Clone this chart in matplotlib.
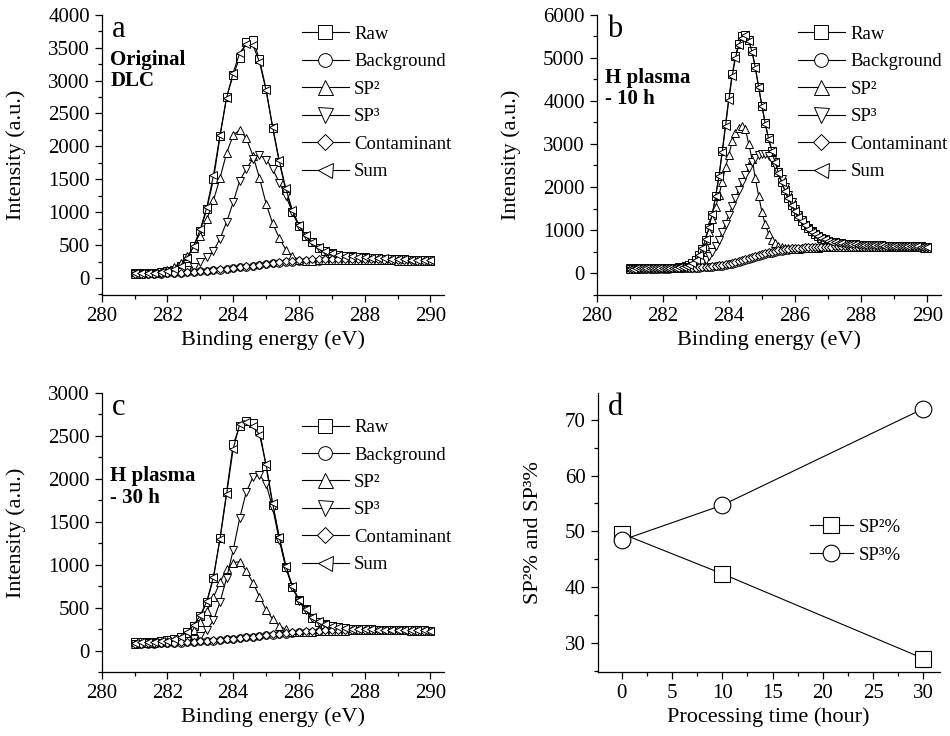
import numpy as np
import matplotlib
matplotlib.use('Agg')
from matplotlib import pyplot as plt
from matplotlib.ticker import MultipleLocator

plt.rcParams['font.family'] = ['Liberation Serif', 'DejaVu Serif']

# binding energy grids (eV)
energy_ac = np.round(np.arange(281.0, 290.01, 0.2), 1)
energy_b = np.round(np.arange(281.0, 290.01, 0.1), 1)

# panel a - original DLC
raw_a = [70, 72, 75, 80, 88, 100, 125, 180, 300, 480,
         720, 1050, 1500, 2150, 2750, 3080, 3350, 3580, 3620, 3320,
         2870, 2280, 1760, 1330, 1010, 790, 640, 540, 460, 405,
         375, 355, 340, 330, 320, 312, 306, 300, 296, 292,
         287, 283, 278, 274, 270, 266]
bg_a = [55, 57, 60, 63, 66, 70, 74, 79, 85, 92,
        100, 108, 117, 127, 138, 150, 162, 174, 186, 198,
        210, 221, 231, 240, 248, 254, 259, 263, 266, 268,
        270, 271, 272, 272, 272, 272, 271, 270, 269, 268,
        266, 264, 262, 260, 258, 256]
sp2_a = [62, 66, 72, 82, 98, 125, 168, 235, 330, 450,
         640, 890, 1180, 1520, 1900, 2170, 2250, 2120, 1860, 1520,
         1130, 830, 610, 430, 330, 280, 265, 265, 267, 268,
         270, 271, 272, 272, 272, 272, 271, 270, 269, 268,
         266, 264, 262, 260, 258, 256]
sp3_a = [56, 58, 61, 64, 68, 74, 82, 95, 120, 170,
         240, 320, 410, 600, 850, 1150, 1480, 1660, 1810, 1870,
         1800, 1660, 1450, 1250, 1000, 790, 640, 540, 460, 405,
         370, 350, 335, 325, 317, 310, 305, 300, 296, 292,
         288, 284, 280, 276, 272, 268]
cont_a = [58, 60, 63, 66, 69, 73, 77, 82, 88, 95,
          103, 111, 120, 130, 141, 153, 165, 177, 190, 203,
          216, 228, 240, 251, 261, 270, 278, 284, 289, 292,
          294, 295, 295, 294, 292, 290, 287, 284, 281, 278,
          275, 272, 269, 266, 263, 260]
sum_a = [72, 74, 77, 82, 90, 104, 132, 190, 310, 490,
         740, 1080, 1560, 2180, 2740, 3120, 3420, 3560, 3540, 3280,
         2850, 2300, 1790, 1360, 1030, 805, 650, 545, 465, 410,
         378, 357, 342, 331, 321, 313, 307, 301, 297, 293,
         288, 284, 279, 275, 271, 267]

# panel b - H plasma 10 h
raw_b = [110, 112, 108, 111, 113, 109, 112, 114, 111, 115, 117,
         118, 120, 124, 128, 135, 145, 160, 185, 230, 300,
         420, 560, 780, 1050, 1360, 1780, 2250, 2830, 3460, 4080,
         4620, 5050, 5330, 5500, 5540, 5420, 5150, 4780, 4320, 3880,
         3480, 3130, 2840, 2580, 2340, 2120, 1920, 1740, 1580, 1440,
         1320, 1210, 1120, 1040, 970, 910, 860, 820, 785, 755,
         735, 718, 705, 694, 686, 679, 673, 668, 664, 660,
         657, 654, 651, 648, 646, 644, 642, 640, 638, 636,
         634, 632, 630, 628, 626, 624, 622, 620, 618, 616]
bg_b = [100, 100, 101, 101, 102, 102, 103, 103, 104, 105, 106,
        107, 108, 109, 110, 112, 114, 116, 118, 121, 124,
        128, 132, 137, 143, 150, 158, 167, 178, 190, 204,
        220, 238, 258, 280, 303, 327, 351, 375, 398, 420,
        441, 460, 478, 494, 508, 521, 532, 542, 551, 559,
        566, 572, 577, 582, 586, 590, 593, 596, 598, 600,
        602, 603, 604, 605, 606, 606, 607, 607, 607, 607,
        607, 607, 606, 606, 606, 605, 605, 604, 604, 603,
        603, 602, 601, 600, 599, 598, 597, 596, 595, 594]
sp2_b = [108, 108, 109, 109, 110, 110, 111, 111, 112, 113, 114,
         116, 118, 121, 125, 130, 138, 150, 170, 200, 250,
         300, 420, 640, 950, 1260, 1540, 1810, 2120, 2470, 2745,
         3060, 3250, 3380, 3420, 3350, 3000, 2650, 2200, 1800, 1420,
         1130, 920, 780, 690, 630, 600, 585, 575, 570, 568,
         570, 573, 578, 582, 586, 590, 593, 596, 598, 600,
         602, 603, 604, 605, 606, 606, 607, 607, 607, 607,
         607, 607, 606, 606, 606, 605, 605, 604, 604, 603,
         603, 602, 601, 600, 599, 598, 597, 596, 595, 594]
sp3_b = [105, 105, 106, 106, 107, 107, 108, 108, 109, 110, 111,
         112, 114, 116, 119, 123, 128, 135, 145, 160, 180,
         210, 250, 310, 390, 490, 620, 780, 960, 1150, 1350,
         1550, 1750, 1940, 2120, 2290, 2440, 2570, 2670, 2740, 2770,
         2760, 2710, 2620, 2500, 2350, 2180, 2000, 1820, 1650, 1490,
         1350, 1230, 1120, 1030, 960, 900, 850, 810, 780, 755,
         735, 718, 705, 694, 685, 678, 672, 667, 663, 659,
         656, 653, 650, 648, 646, 644, 642, 640, 638, 636,
         634, 632, 630, 628, 626, 624, 622, 620, 618, 616]
cont_b = [104, 104, 105, 105, 106, 106, 107, 107, 108, 109, 110,
          111, 112, 113, 115, 117, 119, 121, 124, 127, 131,
          135, 140, 146, 153, 161, 170, 181, 193, 207, 223,
          240, 259, 280, 302, 325, 349, 373, 397, 420, 442,
          463, 482, 500, 516, 530, 543, 554, 564, 573, 581,
          588, 594, 599, 603, 607, 610, 613, 615, 617, 618,
          619, 620, 620, 620, 620, 620, 619, 619, 618, 617,
          616, 615, 614, 613, 612, 611, 610, 609, 608, 607,
          606, 605, 604, 603, 602, 601, 600, 599, 598, 597]
sum_b = [108, 108, 109, 109, 110, 110, 111, 111, 112, 113, 114,
         116, 118, 122, 127, 134, 144, 160, 188, 235, 310,
         430, 580, 800, 1070, 1380, 1790, 2250, 2810, 3420, 4030,
         4570, 5000, 5300, 5470, 5520, 5400, 5140, 4770, 4320, 3880,
         3470, 3120, 2830, 2570, 2330, 2110, 1910, 1735, 1575, 1435,
         1315, 1205, 1115, 1035, 965, 905, 855, 815, 782, 752,
         732, 716, 703, 692, 684, 677, 671, 666, 662, 658,
         655, 652, 649, 647, 645, 643, 641, 639, 637, 635,
         633, 631, 629, 627, 625, 623, 621, 619, 617, 615]

# panel c - H plasma 30 h
raw_c = [95, 97, 100, 104, 110, 118, 130, 158, 212, 288,
         400, 565, 845, 1310, 1850, 2405, 2610, 2675, 2645, 2570,
         2145, 1700, 1310, 975, 745, 585, 478, 382, 337, 305,
         283, 270, 260, 254, 250, 247, 244, 242, 240, 238,
         237, 236, 235, 234, 233, 232]
bg_c = [75, 77, 79, 81, 83, 86, 89, 92, 96, 100,
        105, 110, 116, 122, 129, 136, 144, 152, 160, 168,
        176, 184, 191, 198, 204, 210, 215, 219, 223, 226,
        229, 231, 233, 234, 235, 236, 236, 236, 236, 235,
        235, 234, 233, 232, 231, 230]
sp2_c = [80, 82, 85, 89, 95, 105, 120, 144, 182, 244,
         330, 455, 620, 795, 950, 1025, 1035, 925, 790, 628,
         475, 366, 290, 245, 221, 213, 215, 219, 223, 226,
         229, 231, 233, 234, 235, 236, 236, 236, 236, 235,
         235, 234, 233, 232, 231, 230]
sp3_c = [78, 80, 82, 85, 88, 92, 97, 104, 114, 132,
         165, 240, 350, 565, 845, 1170, 1545, 1850, 2020, 2045,
         1945, 1660, 1290, 965, 735, 575, 470, 378, 333, 300,
         280, 270, 262, 256, 252, 249, 246, 244, 242, 240,
         238, 237, 236, 235, 234, 233]
cont_c = [78, 80, 82, 84, 86, 89, 92, 95, 99, 103,
          108, 113, 119, 125, 132, 139, 147, 155, 163, 171,
          180, 188, 196, 204, 211, 218, 224, 229, 233, 236,
          238, 240, 241, 241, 241, 240, 239, 238, 237, 236,
          235, 234, 233, 232, 231, 230]
sum_c = [92, 94, 97, 101, 107, 116, 130, 160, 217, 295,
         410, 575, 860, 1300, 1820, 2350, 2640, 2665, 2610, 2515,
         2170, 1715, 1325, 990, 750, 590, 483, 386, 340, 307,
         285, 272, 262, 255, 251, 248, 245, 243, 241, 239,
         238, 237, 236, 235, 234, 233]

# panel d
proc_time = [0, 10, 30]
sp2_pct = [49.6, 42.4, 27.2]
sp3_pct = [48.4, 54.7, 72.0]

series_names = ['Raw', 'Background', 'SP²', 'SP³', 'Contaminant', 'Sum']
series_marks = ['s', 'o', '^', 'v', 'D', '<']
mark_sizes = [5.5, 5.5, 6, 6, 4.5, 6]


def style_axes(ax):
    ax.spines['top'].set_visible(False)
    ax.spines['right'].set_visible(False)
    for s in ['left', 'bottom']:
        ax.spines[s].set_linewidth(0.9)
    ax.tick_params(which='both', direction='out', labelsize=15, width=0.9)
    ax.tick_params(which='major', length=5)
    ax.tick_params(which='minor', length=3)


def xps_panel(ax, energy, curves, ylim, ystep, letter, note, note_y, leg_y):
    for vals, name, mk, ms in zip(curves, series_names, series_marks, mark_sizes):
        ax.plot(energy, vals, color='black', lw=0.8, marker=mk, ms=ms,
                mfc='white', mec='black', mew=0.7, label=name)
    ax.set_xlim(280, 290.4)
    ax.set_ylim(*ylim)
    ax.xaxis.set_major_locator(MultipleLocator(2))
    ax.xaxis.set_minor_locator(MultipleLocator(1))
    ax.yaxis.set_major_locator(MultipleLocator(ystep))
    ax.yaxis.set_minor_locator(MultipleLocator(ystep / 2))
    style_axes(ax)
    ax.set_xlabel('Binding energy (eV)', fontsize=16, labelpad=3)
    ax.set_ylabel('Intensity (a.u.)', fontsize=16, labelpad=16)
    ax.text(0.03, 1.0, letter, transform=ax.transAxes, fontsize=22, va='top')
    ax.text(0.025, note_y, note, transform=ax.transAxes, fontsize=15,
            fontweight='bold', va='top', linespacing=1.1)
    ax.legend(loc='upper left', bbox_to_anchor=(0.585, leg_y), frameon=False,
              fontsize=13.5, markerscale=1.8, handlelength=2.5,
              handletextpad=0.3, labelspacing=0.55, borderaxespad=0,
              borderpad=0)


fig = plt.figure(figsize=(9.5, 7.36), dpi=100)
ax_a = fig.add_axes([0.107, 0.599, 0.360, 0.381])
ax_b = fig.add_axes([0.628, 0.599, 0.362, 0.381])
ax_c = fig.add_axes([0.107, 0.087, 0.360, 0.379])
ax_d = fig.add_axes([0.629, 0.087, 0.360, 0.379])

xps_panel(ax_a, energy_ac, [raw_a, bg_a, sp2_a, sp3_a, cont_a, sum_a],
          (-260, 4000), 500, 'a', 'Original\nDLC', 0.875, 0.96)
xps_panel(ax_b, energy_b, [raw_b, bg_b, sp2_b, sp3_b, cont_b, sum_b],
          (-510, 6000), 1000, 'b', 'H plasma\n- 10 h', 0.81, 0.96)
xps_panel(ax_c, energy_ac, [raw_c, bg_c, sp2_c, sp3_c, cont_c, sum_c],
          (-250, 3000), 500, 'c', 'H plasma\n- 30 h', 0.738, 0.907)

ax_d.plot(proc_time, sp2_pct, color='black', lw=0.8, marker='s', ms=11,
          mfc='white', mec='black', mew=0.8, label='SP²%')
ax_d.plot(proc_time, sp3_pct, color='black', lw=0.8, marker='o', ms=12,
          mfc='white', mec='black', mew=0.8, label='SP³%')
ax_d.set_xlim(-2.4, 31.6)
ax_d.set_ylim(24.8, 74.8)
ax_d.xaxis.set_major_locator(MultipleLocator(5))
ax_d.xaxis.set_minor_locator(MultipleLocator(2.5))
ax_d.yaxis.set_major_locator(MultipleLocator(10))
ax_d.yaxis.set_minor_locator(MultipleLocator(5))
style_axes(ax_d)
ax_d.set_xlabel('Processing time (hour)', fontsize=16, labelpad=3)
ax_d.set_ylabel('SP²% and SP³%', fontsize=16, labelpad=16)
ax_d.text(0.03, 1.0, 'd', transform=ax_d.transAxes, fontsize=22, va='top')
ax_d.legend(loc='upper left', bbox_to_anchor=(0.62, 0.55), frameon=False,
            fontsize=13.5, handlelength=2.3, handletextpad=0.3,
            labelspacing=0.6, borderaxespad=0, borderpad=0)

fig.savefig('out.png', dpi=100)
